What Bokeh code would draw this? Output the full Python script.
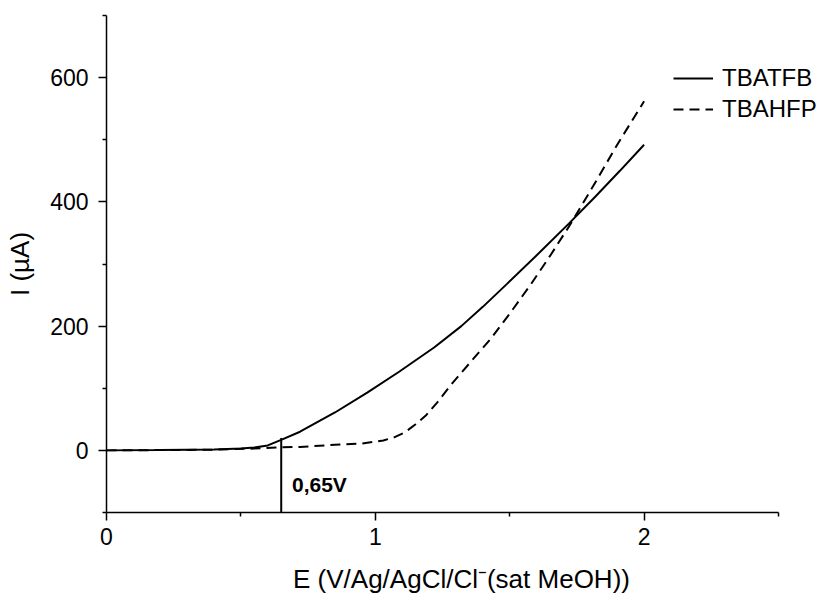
from bokeh.plotting import figure
from bokeh.models import Range1d, FixedTicker, Legend, LegendItem
from bokeh.core.properties import value
from bokeh.embed import file_html
from bokeh.resources import INLINE

# ---- data ----
E_tbatfb = [0, 0.2, 0.4, 0.5, 0.55, 0.6, 0.65, 0.72, 0.85, 0.97, 1.09, 1.22, 1.32,
            1.4, 1.49, 1.61, 1.72, 1.82, 1.91, 2.0]
I_tbatfb = [0, 0.5, 1.5, 3, 4.5, 8, 17, 30, 61, 93, 127, 166, 200,
            231, 268, 318, 365, 409, 450, 492]

E_tbahfp = [0, 0.4, 0.55, 0.65, 0.72, 0.85, 0.95, 1.03, 1.07, 1.11, 1.15, 1.19, 1.23,
            1.29, 1.36, 1.43, 1.5, 1.58, 1.65, 1.72, 1.81, 1.9, 2.0]
I_tbahfp = [0, 1, 3, 5, 5.6, 9, 11, 16, 21, 29, 42, 57, 77,
            110, 145, 180, 220, 268, 313, 360, 425, 492, 562]

series_names = ["TBATFB", "TBAHFP"]

x_major = [0, 1, 2]
x_minor = [0.5, 1.5, 2.5]
y_major = [0, 200, 400, 600]
y_minor = [-100, 100, 300, 500, 700]

onset_E = [0.65]
onset_I = [20]
onset_label = ["0,65V"]
onset_label_E = [0.69]
onset_label_I = [-55]

x_label = "E (V/Ag/AgCl/Cl\u207b(sat MeOH))"
y_label = "I (\u00b5A)"

FONT = "Liberation Sans"

p = figure(width=816, height=596, output_backend="svg", toolbar_location=None,
           x_range=Range1d(0, 2.6414), y_range=Range1d(-100, 700),
           frame_width=710, frame_height=497,
           min_border_left=106, min_border_top=15, min_border_right=0, min_border_bottom=84)
p.outline_line_color = None
p.xgrid.visible = False
p.ygrid.visible = False
p.background_fill_color = "white"
p.border_fill_color = "white"

for ax in (p.xaxis[0], p.yaxis[0]):
    ax.axis_line_color = "black"
    ax.axis_line_width = 1.5
    ax.major_tick_line_color = "black"
    ax.major_tick_line_width = 1.5
    ax.minor_tick_line_color = "black"
    ax.minor_tick_line_width = 1.5
    ax.major_tick_in = 0
    ax.major_tick_out = 8
    ax.minor_tick_in = 0
    ax.minor_tick_out = 4
    ax.major_label_text_font = FONT
    ax.major_label_text_font_size = "23px"
    ax.major_label_text_color = "black"
    ax.axis_label_text_font = FONT
    ax.axis_label_text_font_size = "26px"
    ax.axis_label_text_font_style = "normal"
    ax.axis_label_text_color = "black"

p.xaxis[0].bounds = (0, 2.5)
p.xaxis[0].ticker = FixedTicker(ticks=x_major, minor_ticks=x_minor)
p.yaxis[0].ticker = FixedTicker(ticks=y_major, minor_ticks=y_minor)
p.xaxis[0].axis_label = x_label
p.yaxis[0].axis_label = y_label
p.xaxis[0].major_label_standoff = 7
p.yaxis[0].major_label_standoff = 10
p.xaxis[0].axis_label_standoff = 16
p.yaxis[0].axis_label_standoff = 12

r1 = p.line(E_tbatfb, I_tbatfb, line_color="black", line_width=2)
r2 = p.line(E_tbahfp, I_tbahfp, line_color="black", line_width=2, line_dash="10 6")

# onset marker
p.segment(x0=onset_E, y0=[-100], x1=onset_E, y1=onset_I, line_color="black", line_width=2)
p.text(x=onset_label_E, y=onset_label_I, text=onset_label,
       text_font=value(FONT), text_font_size="21px", text_font_style="bold",
       text_baseline="middle", text_align="left", text_color="black")

legend = Legend(items=[LegendItem(label=series_names[0], renderers=[r1]),
                       LegendItem(label=series_names[1], renderers=[r2])],
                location=(567, 389), padding=0, margin=0, spacing=3,
                glyph_width=40, glyph_height=28, label_height=28,
                label_standoff=9, label_text_font=FONT, label_text_font_size="24px",
                label_text_color="black", border_line_color=None,
                background_fill_alpha=0)
p.add_layout(legend, "center")

open("out.html", "w").write(file_html(p, INLINE))
